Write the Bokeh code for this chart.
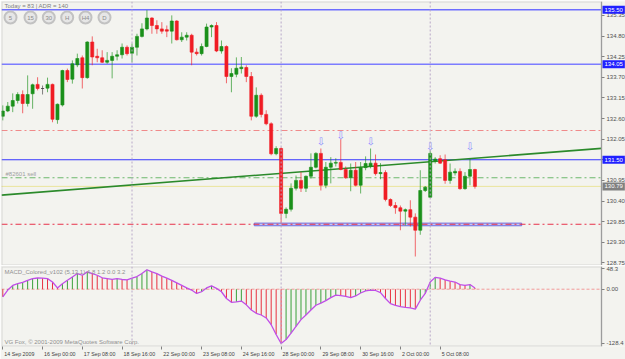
from bokeh.plotting import figure
from bokeh.layouts import column
from bokeh.models import (ColumnDataSource, FixedTicker, Span, Label, Range1d, BoxAnnotation,
                          CustomJSTickFormatter, PrintfTickFormatter)
from bokeh.embed import file_html
from bokeh.resources import INLINE
from bokeh.core.properties import value

# ---------------- data (H4 candles, 14 Sep - 6 Oct 2009) ----------------
opens = [132.66, 132.80, 132.93, 133.08, 133.24, 133.00, 133.26, 133.51, 133.40, 133.41,
         133.51, 132.57, 132.96, 133.88, 133.65, 134.03, 134.22, 133.69, 134.64, 134.26,
         134.22, 134.10, 134.15, 134.26, 134.30, 134.50, 134.34, 134.50, 134.79, 134.99,
         135.28, 135.08, 134.99, 134.97, 134.93, 135.20, 134.70, 134.77, 134.82, 134.37,
         134.33, 134.52, 135.04, 135.08, 134.40, 134.52, 133.72, 133.78, 133.93, 133.96,
         133.72, 132.66, 133.22, 132.71, 132.46, 131.66, 131.80, 130.07, 130.18, 130.74,
         130.95, 130.74, 131.06, 131.30, 131.67, 130.82, 131.30, 131.41, 131.43, 131.24,
         131.02, 131.22, 130.82, 131.29, 131.32, 131.41, 131.13, 131.16, 130.44, 130.28,
         130.22, 130.13, 130.17, 129.97, 129.62, 130.68, 130.50, 131.47, 131.53, 131.50,
         130.95, 131.15, 131.19, 130.73, 131.06, 131.24]
highs = [132.95, 133.04, 133.27, 133.30, 133.35, 133.75, 133.53, 133.70, 133.48, 133.69,
         133.53, 133.00, 133.90, 133.93, 134.15, 134.33, 134.28, 134.66, 134.79, 134.46,
         134.42, 134.37, 134.37, 134.42, 134.60, 134.55, 134.60, 134.86, 135.14, 135.49,
         135.30, 135.22, 135.17, 135.08, 135.35, 135.22, 134.90, 134.90, 134.86, 134.47,
         134.60, 135.13, 135.11, 135.17, 134.68, 134.55, 133.94, 134.23, 134.24, 134.02,
         133.84, 133.43, 133.27, 132.82, 132.50, 131.86, 131.83, 130.23, 130.87, 131.08,
         131.17, 131.08, 131.67, 131.70, 131.80, 131.44, 131.57, 131.54, 132.05, 131.32,
         131.40, 131.44, 131.44, 131.59, 131.80, 131.64, 131.41, 131.22, 130.47, 130.37,
         130.28, 130.20, 130.42, 130.07, 131.22, 130.80, 131.75, 131.57, 131.62, 131.64,
         131.40, 131.27, 131.27, 131.17, 131.53, 131.26]
lows = [132.55, 132.77, 132.77, 133.00, 132.74, 132.92, 132.86, 133.35, 133.24, 133.30,
        132.50, 132.46, 132.92, 133.57, 133.53, 133.97, 133.40, 133.66, 134.02, 134.10,
        134.08, 134.06, 133.67, 134.15, 134.20, 134.28, 134.10, 134.28, 134.76, 134.95,
        134.86, 134.86, 134.86, 134.77, 134.60, 134.68, 134.64, 134.68, 134.02, 134.28,
        134.28, 134.50, 134.77, 134.37, 134.33, 133.54, 133.30, 133.70, 133.80, 133.57,
        132.55, 132.62, 132.63, 132.42, 131.62, 131.62, 129.80, 129.94, 130.12, 130.68,
        130.64, 130.64, 131.00, 131.27, 130.68, 130.74, 130.87, 131.32, 131.22, 130.99,
        130.66, 130.79, 130.60, 131.22, 131.27, 131.08, 130.98, 130.39, 130.24, 130.06,
        129.62, 129.75, 129.72, 128.92, 129.50, 130.64, 130.48, 131.40, 131.39, 130.86,
        130.86, 131.08, 130.70, 130.70, 130.82, 130.73]
closes = [132.80, 132.93, 133.08, 133.24, 133.00, 133.24, 133.50, 133.40, 133.40, 133.51,
          132.58, 132.98, 133.88, 133.64, 134.06, 134.20, 133.69, 134.64, 134.24, 134.22,
          134.10, 134.15, 134.26, 134.30, 134.50, 134.33, 134.50, 134.79, 134.99, 135.28,
          135.08, 134.99, 134.93, 134.93, 135.20, 134.70, 134.77, 134.82, 134.37, 134.33,
          134.52, 135.04, 135.08, 134.40, 134.52, 133.72, 133.80, 133.94, 133.97, 133.72,
          132.66, 133.22, 132.71, 132.46, 131.66, 131.80, 130.07, 130.18, 130.74, 130.95,
          130.74, 131.06, 131.30, 131.67, 130.82, 131.30, 131.41, 131.43, 131.24, 131.02,
          131.22, 130.82, 131.29, 131.40, 131.41, 131.13, 131.16, 130.44, 130.28, 130.22,
          130.13, 130.17, 129.97, 129.62, 130.68, 130.77, 131.67, 131.52, 131.41, 130.95,
          131.17, 131.19, 130.73, 131.06, 131.24, 130.79]
macd = [-18, -2, 9, 13, 16, 21, 25, 26.5, 26, 25,
        17, 3, 13, 21, 29, 37, 33, 41, 37, 33,
        27, 25, 23, 25, 23, 22, 26, 30, 37, 46,
        41, 37, 31, 26, 21, 15, 9, 3, -2, -10,
        -6, 3, 8, 2, -6, -22, -31, -30, -28, -37,
        -49, -57, -61, -68, -84, -107, -128.4, -119, -104, -88,
        -72, -61, -49, -38, -33, -27, -20, -14, -15, -17,
        -20, -16, -9, -4, -2, -3, -8, -22, -34, -38,
        -41, -43, -44, -47, -26, -10, 17, 28, 26, 22,
        19, 17, 11, 9, 11, 3]
bars = list(range(len(opens)))

time_tick_bars = [0, 8, 16, 24, 32, 40, 48, 56, 64, 72, 80, 88]
time_tick_labels = ["14 Sep 2009", "16 Sep 00:00", "17 Sep 08:00", "18 Sep 16:00",
                    "22 Sep 00:00", "23 Sep 08:00", "24 Sep 16:00", "28 Sep 00:00",
                    "29 Sep 08:00", "30 Sep 16:00", "2 Oct 00:00", "5 Oct 08:00"]
price_ticks = [128.75, 129.30, 129.85, 130.40, 130.95, 131.50, 132.05, 132.60,
               133.15, 133.70, 134.25, 134.80, 135.35]
macd_ticks = [48.3, 0.0, -128.4]
macd_tick_labels = ["48.3", "0.00", "-128.4"]

week_separator_bars = [26, 56, 86]
blue_levels = [135.50, 134.05, 131.50]
red_levels = [132.28, 129.78]
order_price = 131.02
bid_price = 130.79
trend_bars = [0, 95]
trend_prices = [130.56, 131.54]
zone_bars = [50.6, 104.4]
zone_prices = [129.74, 129.81]
arrow_bars = [64, 68, 74, 86, 94]
arrow_prices = [131.98, 132.15, 131.99, 131.86, 131.86]

# ---------------- geometry / style ----------------
BG = "#f3f3ef"
FONT = "Liberation Sans"
GREEN = "#1a901a"
RED = "#f01c24"
DOJI = "#404040"
BORDER = "#9c9c9c"

PPB = 4.97                      # pixels per bar
X0 = -0.26                      # bar value at the left frame edge (canvas x = 1)
XA = X0 + 600 / PPB             # bar value where the price scale starts (canvas x = 601)
X1 = X0 + 624 / PPB             # right edge of canvas
Y0, Y1 = 128.68, 135.72
FRAME_T, FRAME_B = 1, 265


def bx(px):
    return X0 + (px - 1) / PPB


def by(py):
    return Y1 - (py - FRAME_T) * (Y1 - Y0) / (FRAME_B - FRAME_T)


def style_price_axis(ax, ticks):
    ax.ticker = FixedTicker(ticks=ticks)
    ax.fixed_location = XA
    ax.major_label_text_font = FONT
    ax.major_label_text_font_size = "6px"
    ax.major_label_text_color = "#505050"
    ax.major_tick_out = 3
    ax.major_tick_in = 0
    ax.major_tick_line_color = "#808080"
    ax.minor_tick_line_color = None
    ax.axis_line_color = BORDER
    ax.major_label_standoff = 2


p = figure(width=625, height=265, x_range=Range1d(X0, X1), y_range=Range1d(Y0, Y1),
           output_backend="svg", toolbar_location=None, y_axis_location="right",
           x_axis_location=None, min_border_left=1, min_border_right=0,
           min_border_top=1, min_border_bottom=0, background_fill_color=BG,
           border_fill_color=BG, outline_line_color=None)
p.grid.visible = False
style_price_axis(p.yaxis[0], price_ticks)
p.yaxis[0].formatter = PrintfTickFormatter(format="%.2f")
p.add_layout(BoxAnnotation(left=X0, right=XA, bottom=Y0, top=Y1, fill_alpha=0,
                           line_color=BORDER, line_width=2))

# separators
for b in week_separator_bars:
    p.add_layout(Span(location=b, dimension="height", line_color="#b8a8c8",
                      line_dash="2 2", line_width=1))

# horizontal levels (stop at the price scale)
level_colors = ["#6e6eff", "#7c7cff", "#3434ff"]
level_widths = [1.5, 1.5, 1]
for lv, col, lw in zip(blue_levels, level_colors, level_widths):
    p.segment(x0=[X0], y0=[lv], x1=[XA], y1=[lv], line_color=col, line_width=lw)
p.segment(x0=[X0], y0=[red_levels[0]], x1=[XA], y1=[red_levels[0]], line_color="#f08a8a",
          line_dash="6 3 2 3", line_width=1)
p.segment(x0=[X0], y0=[order_price], x1=[XA], y1=[order_price], line_color="#6cb86c",
          line_dash="6 3 2 3", line_width=1)
p.segment(x0=[X0], y0=[bid_price], x1=[XA], y1=[bid_price], line_color="#e2d64a",
          line_dash="1 1", line_width=1)

# zone rectangle
p.quad(left=[zone_bars[0]], right=[zone_bars[1]], bottom=[zone_prices[0]], top=[zone_prices[1]],
       fill_color="#c6c6f2", line_color="#6a6ae0", line_width=1)
p.segment(x0=[X0], y0=[red_levels[1]], x1=[XA], y1=[red_levels[1]], line_color="#e8304a",
          line_dash="6 3 2 3", line_width=1)

# trend line (ray across the chart)
grad = (trend_prices[1] - trend_prices[0]) / (trend_bars[1] - trend_bars[0])
p.segment(x0=[X0], y0=[trend_prices[0] + grad * (X0 - trend_bars[0])],
          x1=[XA], y1=[trend_prices[0] + grad * (XA - trend_bars[0])],
          line_color="#2b8a2b", line_width=1.6)

# candles
colors = [GREEN if c > o else (RED if c < o else DOJI) for o, c in zip(opens, closes)]
src = ColumnDataSource(dict(x=bars, o=opens, h=highs, l=lows, c=closes,
                            top=[max(o, c) for o, c in zip(opens, closes)],
                            bottom=[min(o, c) for o, c in zip(opens, closes)],
                            color=colors))
p.segment(x0="x", y0="l", x1="x", y1="h", line_color="color", line_alpha=0.65,
          line_width=1, source=src)
p.vbar(x="x", width=0.62, top="top", bottom="bottom", fill_color="color",
       line_color="color", line_width=0.6, source=src)

# arrows
p.text(x=arrow_bars, y=arrow_prices, text=["\u21e9"] * len(arrow_bars),
       text_font=value("DejaVu Sans"), text_font_size="10px", text_color="#8a8aff",
       text_align="center", text_baseline="middle")

# header text & buttons
p.add_layout(Label(x=X0, y=Y1, x_offset=3, y_offset=-1, text="Today = 83   |   ADR = 140",
                   text_font=FONT, text_font_size="6px", text_color="#808080",
                   text_baseline="top"))
btn_px = [10, 30, 48.3, 66.7, 85, 104]
btn_text = ["5", "15", "30", "H", "H4", "D"]
p.scatter(x=[bx(v) for v in btn_px], y=[by(17)] * len(btn_px), size=12,
          fill_color="#e6e6e6", line_color="#c2c2c2", line_width=2)
p.text(x=[bx(v) for v in btn_px], y=[by(17)] * len(btn_px), text=btn_text,
       text_font=value(FONT), text_font_size="6px", text_color="#8c8c8c",
       text_align="center", text_baseline="middle")

p.add_layout(Label(x=X0, y=order_price, x_offset=4, y_offset=1, text="#82601 sell",
                   text_font=FONT, text_font_size="6px", text_color="#a0a0a0",
                   text_baseline="bottom"))

# boxed price labels on the price scale
for lv, bgc in zip(blue_levels + [bid_price], ["#2020ff", "#2020ff", "#2020ff", "#808080"]):
    p.add_layout(Label(x=XA, y=lv, x_offset=1, text=f"{lv:.2f}", text_font=FONT,
                       text_font_size="6px", text_color="white", text_baseline="middle",
                       background_fill_color=bgc, padding=2))

# ---------------- MACD panel ----------------
M0, M1 = -135.5, 53.7
m = figure(width=625, height=94, x_range=p.x_range, y_range=Range1d(M0, M1),
           output_backend="svg", toolbar_location=None, y_axis_location="right",
           min_border_left=1, min_border_right=0, min_border_top=1, min_border_bottom=12,
           background_fill_color=BG, border_fill_color=BG, outline_line_color=None)
m.grid.visible = False
style_price_axis(m.yaxis[0], macd_ticks)
m.yaxis[0].formatter = CustomJSTickFormatter(args=dict(t=macd_ticks, l=macd_tick_labels), code="""
const i = t.findIndex(v => Math.abs(v - tick) < 1e-6); return i >= 0 ? l[i] : '';""")
m.add_layout(BoxAnnotation(left=X0, right=XA, bottom=M0, top=M1, fill_alpha=0,
                           line_color=BORDER, line_width=2))

CW = {"0": .556, "1": .556, "2": .556, "3": .556, "4": .556, "5": .556, "6": .556,
      "7": .556, "8": .556, "9": .556, " ": .278, ":": .278, "S": .667, "e": .556,
      "p": .556, "O": .778, "c": .5, "t": .278}
TFS = 5.3
centers = [b + (sum(CW.get(ch, .556) for ch in s) * TFS / 2 + 1.5) / PPB
           for b, s in zip(time_tick_bars, time_tick_labels)]
mx = m.xaxis[0]
mx.ticker = FixedTicker(ticks=centers, minor_ticks=time_tick_bars)
mx.formatter = CustomJSTickFormatter(args=dict(t=centers, l=time_tick_labels), code="""
const i = t.findIndex(v => Math.abs(v - tick) < 1e-6); return i >= 0 ? l[i] : '';""")
mx.major_label_text_font = FONT
mx.major_label_text_font_size = f"{TFS}px"
mx.major_label_text_color = "#404040"
mx.major_tick_line_color = None
mx.major_tick_out = 0
mx.major_tick_in = 0
mx.minor_tick_out = 3
mx.minor_tick_in = 0
mx.minor_tick_line_color = "#808080"
mx.axis_line_color = None
mx.major_label_standoff = 1

for b in week_separator_bars:
    m.add_layout(Span(location=b, dimension="height", line_color="#b8a8c8",
                      line_dash="2 2", line_width=1))
m.segment(x0=[X0], y0=[0], x1=[XA], y1=[0], line_color="#f29a9a",
          line_dash="3 2", line_width=1)

hist_colors = ["#e8303f" if i == 0 or macd[i] < macd[i - 1] else "#3aa03a"
               for i in range(len(macd))]
m.segment(x0=bars, y0=[0] * len(bars), x1=bars, y1=macd, line_color=hist_colors,
          line_width=1)
m.line(bars, macd, line_color="#c04ee8", line_width=1.3)

m.add_layout(Label(x=X0, y=M1, x_offset=3, y_offset=-2,
                   text="MACD_Colored_v102 (5,13,1) 4.8 1.2 0.0 3.2", text_font=FONT,
                   text_font_size="6px", text_color="#909090", text_baseline="top"))
m.add_layout(Label(x=X0, y=M0, x_offset=3, y_offset=2,
                   text="VG Fox, \u00a9 2001-2009 MetaQuotes Software Corp.", text_font=FONT,
                   text_font_size="6px", text_color="#909090", text_baseline="bottom"))

layout = column(p, m, spacing=0)
open("out.html", "w").write(file_html(layout, INLINE))
